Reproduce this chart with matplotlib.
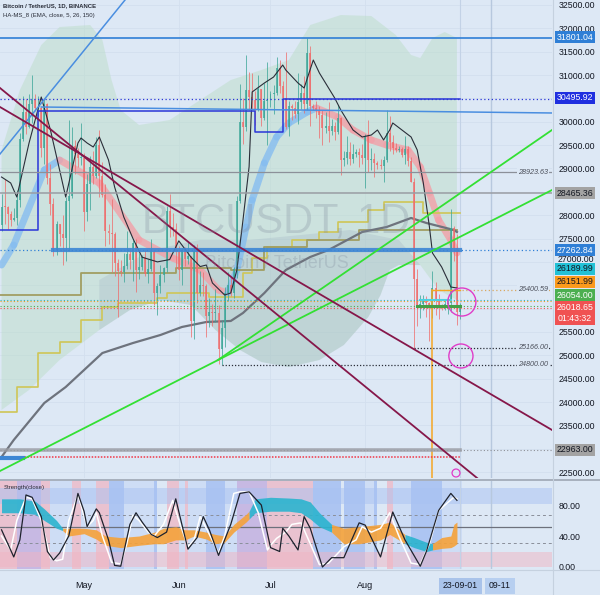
import numpy as np
import matplotlib.pyplot as plt
from matplotlib.patches import Ellipse
from matplotlib.lines import Line2D

plt.rcParams['font.family'] = ['Liberation Sans', 'DejaVu Sans']

# ---- data (day 0 = 2023-04-01) -------------------------------------------
first_day = 2
first_open = 28171
closes = [27800, 28175, 28170, 28033, 27906, 27938, 28323, 29637, 30200, 29888, 30373, 30466, 30295, 30304,
          29430, 30380, 28797, 28243, 27263, 27816, 27590, 27514, 28300, 28415, 29472, 29311, 29230, 29233,
          28068, 28669, 29026, 28838, 29506, 28848, 28431, 27657, 27628, 27599, 26969, 26795, 26775, 26917,
          27162, 27032, 27405, 26822, 26890, 27112, 26747, 26850, 27225, 26334, 26476, 26719, 26868, 28085,
          27745, 27702, 27219,
          26819, 27249, 27069, 27116, 25728, 27231, 26340, 26499, 26478, 25842, 25922, 25897, 25903, 25126,
          25576, 26329, 26511, 26340, 26845, 28308, 30000, 29890, 30688, 30527, 30463, 30267, 30692, 30078,
          30446, 30472,
          30585, 30617, 31156, 30767, 30505, 29895, 30347, 30292, 30171, 30414, 30620, 30391, 31476, 30334,
          30295, 30249, 30145, 29856, 29913, 29793, 29909, 29790, 30083, 29176, 29228, 29353, 29212, 29314,
          29352, 29281, 29232,
          29705, 29186, 29193, 29113, 29072, 29048, 29183, 29766, 29562, 29430, 29404, 29416, 29283, 29409,
          29170, 28701, 26628, 26054, 26101, 26189, 26125, 26056, 26432, 26163, 26050, 26007, 26091, 26121,
          27716, 27299, 25931,
          26019]
highs = [28494, 28444, 28775, 28190, 28100, 28154, 28530, 29770, 30550, 30487, 30595, 31000, 30595, 30549,
         30316, 30485, 30410, 29090, 28374, 27877, 27820, 28000, 28399, 30036, 29890, 29599, 29448, 29969,
         29337, 28879, 29266, 29379, 29677, 29820, 29138, 28664, 27821, 28336, 27636, 27055, 27030, 27200,
         27662, 27296, 27466, 27485, 27183, 27150, 27265, 27063, 27495, 27225, 26539, 26930, 26888, 28200,
         28447, 28044, 27834,
         27350, 27300, 27325, 27455, 27131, 27355, 27391, 26810, 26785, 26530, 26220, 26098, 26430, 26087,
         25750, 26468, 26785, 26700, 26888, 28402, 30800, 30500, 31431, 31060, 31046, 30662, 31006, 30703,
         30838, 31282,
         30661, 30791, 31381, 31323, 30878, 31500, 30449, 30385, 30445, 31045, 30800, 30983, 31804, 31630,
         30390, 30440, 30337, 30246, 30199, 30418, 30064, 29998, 30350, 30099, 29376, 29690, 29575, 29530,
         29415, 29449, 29530,
         29739, 30047, 29433, 29333, 29152, 29205, 29266, 30244, 30131, 29719, 29541, 29474, 29450, 29689,
         29477, 29250, 28787, 26839, 26295, 26292, 26260, 26136, 26815, 26577, 26311, 26107, 26180, 26238,
         28142, 27768, 27588,
         26125]
lows = [27200, 27662, 27805, 27711, 27767, 27870, 27800, 28170, 29590, 29732, 29866, 29967, 30227, 30120,
        29240, 29096, 28669, 28010, 27125, 27140, 27350, 26942, 27020, 27235, 28378, 28891, 29031, 29079,
        27666, 27872, 28113, 28667, 28800, 28390, 28395, 27337, 27375, 26777, 26702, 25811, 26692, 26575,
        26852, 26852, 26600, 26360, 26630, 26836, 26700, 26551, 26800, 26080, 25871, 26344, 26560, 26773,
        27524, 27555, 26841,
        26605, 26505, 26916, 26951, 25388, 25351, 26125, 26263, 26266, 25400, 25612, 25638, 25714, 24820,
        24800, 25169, 26153, 26271, 26234, 26665, 28259, 29525, 29809, 30250, 30250, 29925, 30222, 29920,
        30045, 29500,
        30320, 30165, 30570, 30620, 30200, 29850, 29701, 30041, 30072, 29950, 30270, 30190, 30244, 29900,
        30258, 30090, 29659, 29512, 29766, 29567, 29720, 29615, 29740, 28861, 29047, 29101, 29071, 29125,
        29256, 29033, 29101,
        28585, 28927, 28960, 28810, 28978, 28980, 28702, 29139, 29373, 29320, 29355, 29355, 29251, 29087,
        29056, 28701, 25166, 25620, 25801, 25971, 25812, 25300, 25790, 25864, 25777, 25960, 25971, 25880,
        25922, 27024, 25655,
        25777]

# HA-MS_8 lines
ema5_days = [3, 6, 8, 10, 12, 16, 19, 22, 24, 26, 28, 29, 31, 33, 35, 38, 40, 43, 46, 49, 54, 58, 61, 65, 68,
             70, 72, 76, 78, 80, 82, 84, 85, 89, 92, 95, 96, 100, 102, 105, 107, 112, 114, 118, 121, 124, 126,
             128, 130, 131, 134, 137, 139, 141, 143, 144, 147, 149, 150, 152]
ema5 = [28817, 28689, 28389, 28967, 29545, 30530, 29824, 28967, 28389, 28967, 29545, 29652, 29545, 29460, 29674,
        29181, 28603, 27961, 27500, 27100, 27000, 27050, 27450, 27100, 26900,
        26933, 26548, 26291, 26334, 26826, 27897, 29038, 30638, 30830, 30958, 31215, 31108, 30830, 30723, 31322,
        31044, 30509, 30252, 29824, 29674, 29717, 29824, 29610, 29824, 29974, 29824, 29674, 29396, 28689, 27747,
        27190, 26891, 26612, 26462, 26441]
ema26_days = [3, 7, 17, 22, 35, 48, 59, 68, 74, 77, 80, 83, 85, 89, 93, 97, 103, 106, 113, 118, 124, 129, 136,
              140, 143, 146, 150, 152]
ema26 = [26933, 27361, 28967, 29181, 28688, 27468, 27082, 26826, 26397, 26333, 26826, 27746, 28325, 29117, 29673,
         29973, 30209, 30294, 30101, 29823, 29609, 29502, 29395, 29031, 28474, 27896, 27468, 27190]
ema26_up = [1, 1, 1, 0, 0, 0, 0, 0, 0, 1, 1, 1, 1, 1, 1, 1, 1, 0, 0, 0, 0, 0, 0, 0, 0, 0, 0, 0]
ema150_days = [3, 7, 17, 24, 30, 36, 46, 55, 62, 70, 78, 82, 89, 96, 104, 110, 121, 129, 137, 142, 151, 152]
ema150 = [22823, 23187, 23979, 24321, 24685, 25049, 25263, 25435, 25606, 25713, 25735, 25906, 26334, 26826,
          27105, 27255, 27640, 27747, 27940, 27833, 27683, 27640]

cloud_up_days = [3, 9, 16, 22, 32, 36, 39, 42, 48, 58, 68, 78, 88, 97, 104, 114, 124, 132, 137, 140, 144, 148, 152]
cloud_up = [29396, 30680, 31644, 32029, 32072, 31751, 30894, 30252, 29931, 30038, 30466, 30894, 31108, 31322,
            32072, 32286, 32264, 31858, 31430, 31365, 31793, 31922, 31793]
cloud_lo_days = [3, 12, 22, 35, 45, 55, 65, 73, 81, 88, 97, 107, 115, 123, 127, 130, 133, 140, 146, 152]
cloud_lo = [23829, 24257, 24899, 25542, 25970, 26184, 26077, 25542, 25114, 24857, 24749, 24899, 25221, 25820,
            26291, 26827, 26933, 26933, 26398, 26184]
blob_up_days = [35, 52, 68, 84, 101, 117, 133, 140]
blob_up = [26612, 27255, 27469, 27469, 27576, 27683, 27469, 26933]

yellow_days = [2, 8, 15, 22, 29, 36, 41, 54, 57, 71, 82, 85, 90, 98, 107, 113, 123, 128, 141, 153]
yellow = [23786, 24321, 25049, 25285, 25756, 26034, 26120, 26227, 26334, 26248, 26762, 27083, 27319, 27469,
          27640, 27854, 28111, 28282, 28047, 28047]
olive_days = [2, 29, 60, 78, 89, 103, 120, 152]
olive = [26291, 26762, 26869, 26827, 27319, 27469, 27683, 27683]
step_days = [2, 15, 86, 95, 153]
step_vals = [27683, 30231, 29781, 30496, 30496]

# drawings: (day1, price1, day2, price2)
blue_diag = (2.5, 29310, 43.4, 32607)
blue_flat = (16, 30316, 183, 30188)
green1 = (2.5, 22523, 183.1, 28539)
green2 = (73.8, 24899, 183.1, 29824)
maroon_a = (2.5, 30316, 183.1, 23401)
maroon_b = (2.5, 30723, 158.6, 22372)

# strength(close) panel
white_days = [3, 6, 8, 11, 13, 16, 19, 21, 23, 25, 28, 29, 31, 33, 34, 36, 39, 42, 44, 46, 48, 51, 53, 56, 59,
              61, 64, 66, 68, 70, 74, 76, 79, 81, 84, 87, 90, 91, 93, 96, 98, 101, 104, 107, 110, 115, 119, 121,
              124, 127, 130, 133, 137, 140, 143, 146, 151, 152]
white = [40, 22, 60, 90, 88, 60, 12, 8, 10, 60, 93, 80, 52, 60, 70, 40, 6, 4, 30, 67, 60, 45, 40, 55, 86,
         60, 26, 35, 65, 50, 18, 40, 95, 97, 97, 70, 22, 28, 37, 45, 55, 57, 30, 3, 5, 26, 35, 52,
         45, 50, 70, 40, 5, 3, 30, 73, 90, 88]
black_days = [3, 7, 9, 11, 13, 16, 18, 20, 22, 25, 28, 30, 31, 34, 35, 38, 40, 42, 45, 47, 49, 52, 54, 57, 60,
              62, 64, 67, 69, 71, 74, 78, 81, 84, 88, 91, 94, 95, 97, 100, 102, 104, 108, 111, 115, 120, 122,
              127, 131, 135, 140, 142, 146, 150, 152]
black = [48, 13, 35, 93, 90, 65, 20, 9, 18, 40, 95, 72, 52, 75, 70, 35, 2, 1, 55, 70, 58, 42, 38, 45, 88,
         55, 23, 38, 65, 48, 15, 55, 95, 97, 80, 25, 20, 50, 40, 22, 65, 50, 0, 12, 12, 57, 54,
         13, 71, 35, 1, 20, 73, 95, 86]
ribbons = [
    ('cyan', [3, 9, 14, 17, 21, 23], [88, 88, 85, 75, 60, 50], [70, 70, 68, 60, 50, 47]),
    ('orange', [23, 25, 30, 34, 37, 42, 48, 53, 56, 60, 63, 66, 70, 73, 76, 79, 83, 84],
     [50, 50, 50, 48, 40, 38, 40, 45, 50, 52, 48, 48, 45, 42, 40, 55, 68, 72],
     [47, 40, 43, 36, 28, 25, 28, 30, 30, 35, 35, 40, 36, 30, 32, 45, 58, 62]),
    ('cyan', [84, 86, 91, 97, 101, 104, 107, 111], [72, 88, 90, 89, 88, 84, 70, 55], [62, 70, 72, 72, 70, 62, 52, 45]),
    ('orange', [111, 115, 120, 127, 130, 133, 135], [55, 50, 52, 55, 58, 48, 42], [45, 30, 30, 35, 42, 35, 30]),
    ('cyan', [135, 138, 142, 144], [42, 38, 32, 30], [30, 25, 20, 22]),
    ('orange', [144, 147, 150, 151, 152], [30, 38, 40, 55, 58], [22, 24, 25, 27, 30]),
]
band_edges = [2.5, 8, 16, 19, 26, 29, 34, 38, 43, 53, 54, 57, 61, 63, 64, 70, 76, 80, 90, 105, 114, 115, 122,
              125, 126, 129, 131, 137, 147, 153.5]
band_kinds = ['pink', 'purple', 'pink', 'light', 'pink', 'light', 'pink', 'blue', 'light', 'blue', 'none',
              'pink', 'light', 'pink', 'light', 'blue', 'light', 'purple', 'pink', 'blue', 'none', 'blue',
              'light', 'blue', 'none', 'pink', 'light', 'blue', 'light']

price_ticks = [22500, 23500, 24000, 24500, 25000, 25500, 27500, 28000, 29000, 29500, 30000, 31000,
               31500, 32000, 32500]
month_days = [30, 61, 91, 122]
month_names = ['May', 'Jun', 'Jul', 'Aug']

# ---- style ----------------------------------------------------------------
BG = '#dde8f5'
TXT = '#131722'
W, H = 600, 595


def fx(x):
    return x / W


def fy(y):
    return 1 - y / H


fig = plt.figure(figsize=(6, 5.95), dpi=100, facecolor=BG)
ax = fig.add_axes([0, fy(478), fx(552), 478 / H])
ax2 = fig.add_axes([0, fy(569), fx(552), 89 / H])
for a in (ax, ax2):
    a.set_facecolor(BG)
    for s in a.spines.values():
        s.set_visible(False)
ax.set_xlim(2.5, 183.1)
ax.set_ylim(22373, 32607)
ax2.set_xlim(2.5, 183.1)
ax2.set_ylim(-2.6, 112.3)

# grid
for p in range(22500, 33000, 500):
    ax.axhline(p, color='#d3dfee', lw=0.6, zorder=0)
for d in month_days + [153]:
    ax.axvline(d, color='#d3dfee', lw=0.6, zorder=0)

# cloud
ax.fill(np.r_[cloud_up_days, cloud_lo_days[::-1]], np.r_[cloud_up, cloud_lo[::-1]],
        color='#b9dcc4', alpha=0.45, lw=0, zorder=0.5)
blob_lo_days = [d for d in cloud_lo_days if 35 <= d <= 140]
blob_lo = [p for d, p in zip(cloud_lo_days, cloud_lo) if 35 <= d <= 140]
ax.fill(np.r_[blob_up_days, blob_lo_days[::-1]], np.r_[blob_up, blob_lo[::-1]],
        color='#9fb0c2', alpha=0.28, lw=0, zorder=0.6)

# watermark
fig.text(fx(276), fy(221), 'BTCUSDT, 1D', fontsize=30, color='#7f8a9c', alpha=0.28,
         ha='center', va='center')
fig.text(fx(277), fy(264), 'Bitcoin / TetherUS', fontsize=13, color='#7f8a9c', alpha=0.28,
         ha='center', va='center')

# EMA26 band
for i in range(len(ema26) - 1):
    col = '#86bdf0' if ema26_up[i] else '#f2a0a8'
    ax.plot(ema26_days[i:i + 2], ema26[i:i + 2], color=col, lw=5, alpha=0.8,
            solid_capstyle='round', zorder=1)

# step lines
ax.step(yellow_days, yellow, where='post', color='#cfc656', lw=1.2, zorder=1.5)
ax.step(olive_days, olive, where='post', color='#a19e62', lw=1.3, zorder=1.5)
ax.plot(ema150_days, ema150, color='#6e737d', lw=1.6, zorder=1.6)

# candles
days = np.arange(first_day, first_day + len(closes))
c = np.array(closes, float)
o = np.array([first_open] + closes[:-1], float)
hi = np.array(highs, float)
lo = np.array(lows, float)
up = c >= o
cols = np.where(up, '#3aa597', '#ef6b6b')
ax.vlines(days, lo, hi, colors=cols, lw=0.7, alpha=0.75, zorder=2)
ax.bar(days, np.maximum(np.abs(c - o), 20), bottom=np.minimum(o, c), width=0.65, color=cols,
       alpha=0.75, lw=0, zorder=2)
ax.plot(ema5_days, ema5, color='#2a2e39', lw=0.8, zorder=2.5)

# horizontal levels
ax.axhline(31801.04, color='#2f7fd6', lw=1.2, zorder=3)
ax.axhline(30495.92, color='#2a35d8', lw=0.9, ls=(0, (1, 2)), zorder=3)
ax.step(step_days, step_vals, where='post', color='#2a35d8', lw=1.1, zorder=3)
ax.plot(blue_flat[::2], blue_flat[1::2], color='#4a8ee0', lw=1.1, zorder=3)
ax.plot(blue_diag[::2], blue_diag[1::2], color='#4a8ee0', lw=1.1, zorder=3)
ax.axhline(28923.63, color='#8c9099', lw=0.9, zorder=3)
ax.axhline(28465.36, color='#9a9da4', lw=1.1, zorder=3)
ax.axhline(27262.84, color='#2f7fd6', lw=0.9, ls=(0, (1, 2)), zorder=3)
ax.plot([20, 153], [27262.84, 27262.84], color='#3d86d4', lw=3, alpha=0.9, zorder=3)
ax.axhline(26189.99, color='#1fb8d0', lw=0.8, ls=(0, (1, 2)), zorder=3)
ax.axhline(26151.99, color='#f39a1c', lw=0.8, ls=(0, (1, 2)), zorder=3)
ax.axhline(26054.00, color='#4caf50', lw=0.8, ls=(0, (1, 2)), zorder=3)
ax.axhline(26018.65, color='#ef5350', lw=0.8, ls=(0, (1, 2)), zorder=3)
ax.plot([144, 183.1], [26400.59, 26400.59], color='#d8a860', lw=0.9, ls=(0, (1, 2)), zorder=3)
ax.plot([144, 153], [26400.59, 26400.59], color='#f5a623', lw=1.0, zorder=3)
ax.plot([144, 144], [22373, 26400.59], color='#f5a623', lw=1.1, zorder=3)
ax.plot([139, 153], [26054, 26054], color='#43a047', lw=2.2, zorder=3)
ax.plot([140, 150], [26189.99, 26189.99], color='#4dd0e1', lw=1.5, zorder=3)
ax.plot([75, 183.1], [24800, 24800], color='#2a2e39', lw=0.9, ls=(0, (1, 1.5)), zorder=3)
ax.plot([138, 183.1], [25166, 25166], color='#2a2e39', lw=0.9, ls=(0, (1, 1.5)), zorder=3)
ax.axhline(22963, color='#8d9096', lw=0.8, ls=(0, (1, 2)), zorder=3)
ax.plot([2.5, 153], [22963, 22963], color='#9a9ca3', lw=2.6, alpha=0.8, zorder=3)
ax.plot([2.5, 153], [22823, 22823], color='#f23645', lw=1.1, ls=(0, (1, 1)), zorder=3)
ax.plot([2.5, 10], [22800, 22800], color='#3d86d4', lw=3, zorder=3)

# trend lines
for ln, col in [(green1, '#33e033'), (green2, '#33e033'), (maroon_a, '#86174a'), (maroon_b, '#86174a')]:
    ax.plot(ln[::2], ln[1::2], color=col, lw=1.3, zorder=4)

# marks
ax.add_patch(Ellipse((153.6, 26141), 9.2, 600, fill=False, ec='#e03cc8', lw=1.0, zorder=5))
ax.add_patch(Ellipse((153.3, 24985), 7.9, 514, fill=False, ec='#e03cc8', lw=1.0, zorder=5))
ax.add_patch(Ellipse((151.7, 22480), 2.6, 170, fill=False, ec='#e03cc8', lw=0.9, zorder=5))
for a in (ax, ax2):
    a.axvline(163, color='#b7c8de', lw=1, zorder=0.4)
    a.axvline(153, color='#c3d2e6', lw=0.8, zorder=0.4)

# italic line labels
ytr = ax.get_yaxis_transform()
for p, s in [(28923.63, '28923.63'), (26400.59, '26400.59'), (25166.00, '25166.00'), (24800.00, '24800.00')]:
    ax.text(0.993, p, s, transform=ytr, ha='right', va='center', fontsize=5.2, style='italic',
            color='#4c505b', zorder=6,
            bbox=dict(boxstyle='square,pad=0.15', fc=BG, ec='none'))

# price axis
ax.yaxis.tick_right()
ax.set_yticks(price_ticks)
ax.set_yticklabels(['%.2f' % p for p in price_ticks])
ax.tick_params(axis='y', length=0, pad=5, labelsize=6.3, labelcolor=TXT)
ax.set_xticks([])
# 27000 sits half hidden behind the stacked price tags
fig.text(fx(576), fy(259), '27000.00', ha='center', va='center', fontsize=6.3, color=TXT)


def tag(y, s, fc, tc, size=6.3):
    fig.text(fx(575), fy(y), s, ha='center', va='center', fontsize=size, color=tc, linespacing=1.35,
             bbox=dict(boxstyle='square,pad=0.17', fc=fc, ec='none'))


tag(37, '31801.04', '#2f7fd6', 'white')
tag(98, '30495.92', '#1f2fe0', 'white')
tag(193, '28465.36', '#a3a3a3', TXT)
tag(250, '27262.84', '#2f7fd6', 'white')
tag(269, '26189.99', '#22c1d6', TXT)
tag(282, '26151.99', '#fb9a1c', TXT)
tag(295, '26054.00', '#4caf50', 'white')
tag(313, '26018.65\n01:43:32', '#f05252', 'white')
tag(450, '22963.00', '#a3a3a3', TXT)

# header
fig.text(fx(3), fy(6), 'Bitcoin / TetherUS, 1D, BINANCE', fontsize=4.3, weight='bold', color='#2a2e39',
         va='center')
fig.text(fx(3), fy(15), 'HA-MS_8 (EMA, close, 5, 26, 150)', fontsize=4.3, color='#2a2e39', va='center')

# ---- strength panel -------------------------------------------------------
band_col = {'pink': ('#f3a3b2', 0.55), 'purple': ('#b99ad8', 0.6), 'blue': ('#8eaef0', 0.6),
            'light': ('#c0d4f6', 0.5)}
for i, k in enumerate(band_kinds):
    if k == 'none':
        continue
    fc, al = band_col[k]
    ax2.axvspan(band_edges[i], band_edges[i + 1], color=fc, alpha=al, lw=0, zorder=0.2)
ax2.axhspan(81, 102, color='#a9c2f2', alpha=0.5, lw=0, zorder=0.3)
ax2.axhspan(0, 19, color='#f0b5c3', alpha=0.5, lw=0, zorder=0.3)
ax2.axhline(67, color='#8a8f9a', lw=0.7, ls=(0, (3, 3)), zorder=1)
ax2.axhline(51, color='#6d717c', lw=0.9, zorder=1)
ax2.axhline(31, color='#8a8f9a', lw=0.7, ls=(0, (3, 3)), zorder=1)
for kind, dd, u, l in ribbons:
    ax2.fill_between(dd, l, u, color='#2bb4cf' if kind == 'cyan' else '#f5a23a', alpha=0.9, lw=0, zorder=2)
ax2.plot(white_days, white, color='white', lw=1.1, zorder=3)
ax2.plot(black_days, black, color='#1e222d', lw=0.9, zorder=3)
ax2.text(0.006, 0.92, 'Strength(close)', transform=ax2.transAxes, fontsize=4.3, color='#2a2e39',
         va='center', ha='left', zorder=5)

ax2.yaxis.tick_right()
ax2.set_yticks([0, 40, 80])
ax2.set_yticklabels(['0.00', '40.00', '80.00'])
ax2.tick_params(axis='y', length=0, pad=5, labelsize=6.3, labelcolor=TXT)
ax2.set_xticks(month_days)
ax2.set_xticklabels(month_names)
ax2.tick_params(axis='x', length=0, pad=9, labelsize=6.5, labelcolor=TXT)

fig.text(fx(460), fy(586), '23-09-01', ha='center', va='center', fontsize=6.3, color=TXT,
         bbox=dict(boxstyle='square,pad=0.45', fc='#a9c3ea', ec='none'))
fig.text(fx(500), fy(586), '09-11', ha='center', va='center', fontsize=6.3, color=TXT,
         bbox=dict(boxstyle='square,pad=0.45', fc='#b7cff0', ec='none'))

# panel separators
fig.add_artist(Line2D([0, 1], [fy(479.5), fy(479.5)], color='#a7b0bd', lw=1.4))
fig.add_artist(Line2D([0, 1], [fy(569.5), fy(569.5)], color='#c5d1df', lw=0.8))
fig.add_artist(Line2D([fx(552.5), fx(552.5)], [0, 1], color='#c5d1df', lw=0.8))

fig.savefig('out.png', dpi=100, facecolor=BG)
